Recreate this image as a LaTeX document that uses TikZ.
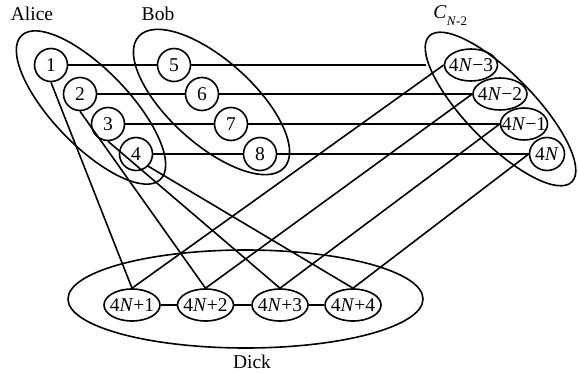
\documentclass[tikz,border=0pt]{standalone}
\usepackage{fontspec}
\setmainfont{Liberation Serif}
\usetikzlibrary{shapes.geometric}
\begin{document}
\begin{tikzpicture}[x=1pt,y=-1pt,line width=1.6pt,
  every node/.style={font=\fontsize{19.5}{22}\selectfont},
  vtx/.style={circle,draw,inner sep=0pt,minimum size=33pt},
  evtx/.style={ellipse,draw,inner sep=0pt,minimum height=32pt,minimum width=#1},
  grp/.style={ellipse,draw,inner sep=0pt},
  lab/.style={inner sep=0pt}]
\useasboundingbox (0,0) rectangle (578,374);
% group ellipses
\node[grp,minimum width=200pt,minimum height=76pt,rotate=-46] (alice) at (91,107.5) {};
\node[grp,minimum width=196pt,minimum height=84pt,rotate=-42] (bob) at (211.5,102) {};
\node[grp,minimum width=204pt,minimum height=68pt,rotate=-45.7] (cgrp) at (500.5,109) {};
\node[grp,minimum width=355pt,minimum height=98pt] (dick) at (245.5,299) {};
% labels
\node[lab] (lalice) at (32,14) {Alice};
\node[lab] (lbob) at (158,14) {Bob};
\node[lab] (lc) at (440,12) {\textit{C}};
\node[lab,font=\fontsize{13}{14}\selectfont] (lcsub) at (457,21) {\textit{N}-2};
\node[lab] (ldick) at (252,362) {Dick};
% vertices
\node[vtx] (n1) at (51,65) {1};
\node[vtx] (n2) at (80,94) {2};
\node[vtx] (n3) at (108,124) {3};
\node[vtx] (n4) at (136,154) {4};
\node[vtx] (n5) at (174,65) {5};
\node[vtx] (n6) at (202,94) {6};
\node[vtx] (n7) at (231,124) {7};
\node[vtx] (n8) at (260,154) {8};
\node[evtx=53pt] (c1) at (471,65) {\makebox[0pt]{4\textit{N}−3}};
\node[evtx=54pt] (c2) at (500,94) {\makebox[0pt]{4\textit{N}−2}};
\node[evtx=47pt] (c3) at (524,124) {\makebox[0pt]{4\textit{N}−1}};
\node[evtx=35pt,minimum height=33pt] (c4) at (547,154) {\makebox[0pt]{4\textit{N}}};
\node[evtx=56pt] (d1) at (132,305) {\makebox[0pt]{4\textit{N}+1}};
\node[evtx=56pt] (d2) at (205.5,305) {\makebox[0pt]{4\textit{N}+2}};
\node[evtx=56pt] (d3) at (280,305) {\makebox[0pt]{4\textit{N}+3}};
\node[evtx=56pt] (d4) at (353,305) {\makebox[0pt]{4\textit{N}+4}};
\coordinate (cend) at (426,65);
% horizontal lines
\draw (n1) -- (n5);
\draw (n5) -- (cend);
\draw (n2) -- (n6);
\draw (n6) -- (c2);
\draw (n3) -- (n7);
\draw (n7) -- (c3);
\draw (n4) -- (n8);
\draw (n8) -- (c4);
% lines to Dick
\draw (n1.south) -- (d1.north);
\draw (n2.south) -- (d2.north);
\draw (n3.south) -- (d3.north);
\draw (n4.south east) -- (d4.north);
\draw (c1.west) -- (d1.north);
\draw (c2.west) -- (d2.north);
\draw (c3.west) -- (d3.north);
\draw (c4.west) -- (d4.north);
\draw (d1) -- (d2);
\draw (d2) -- (d3);
\draw (d3) -- (d4);
\end{tikzpicture}
\end{document}
